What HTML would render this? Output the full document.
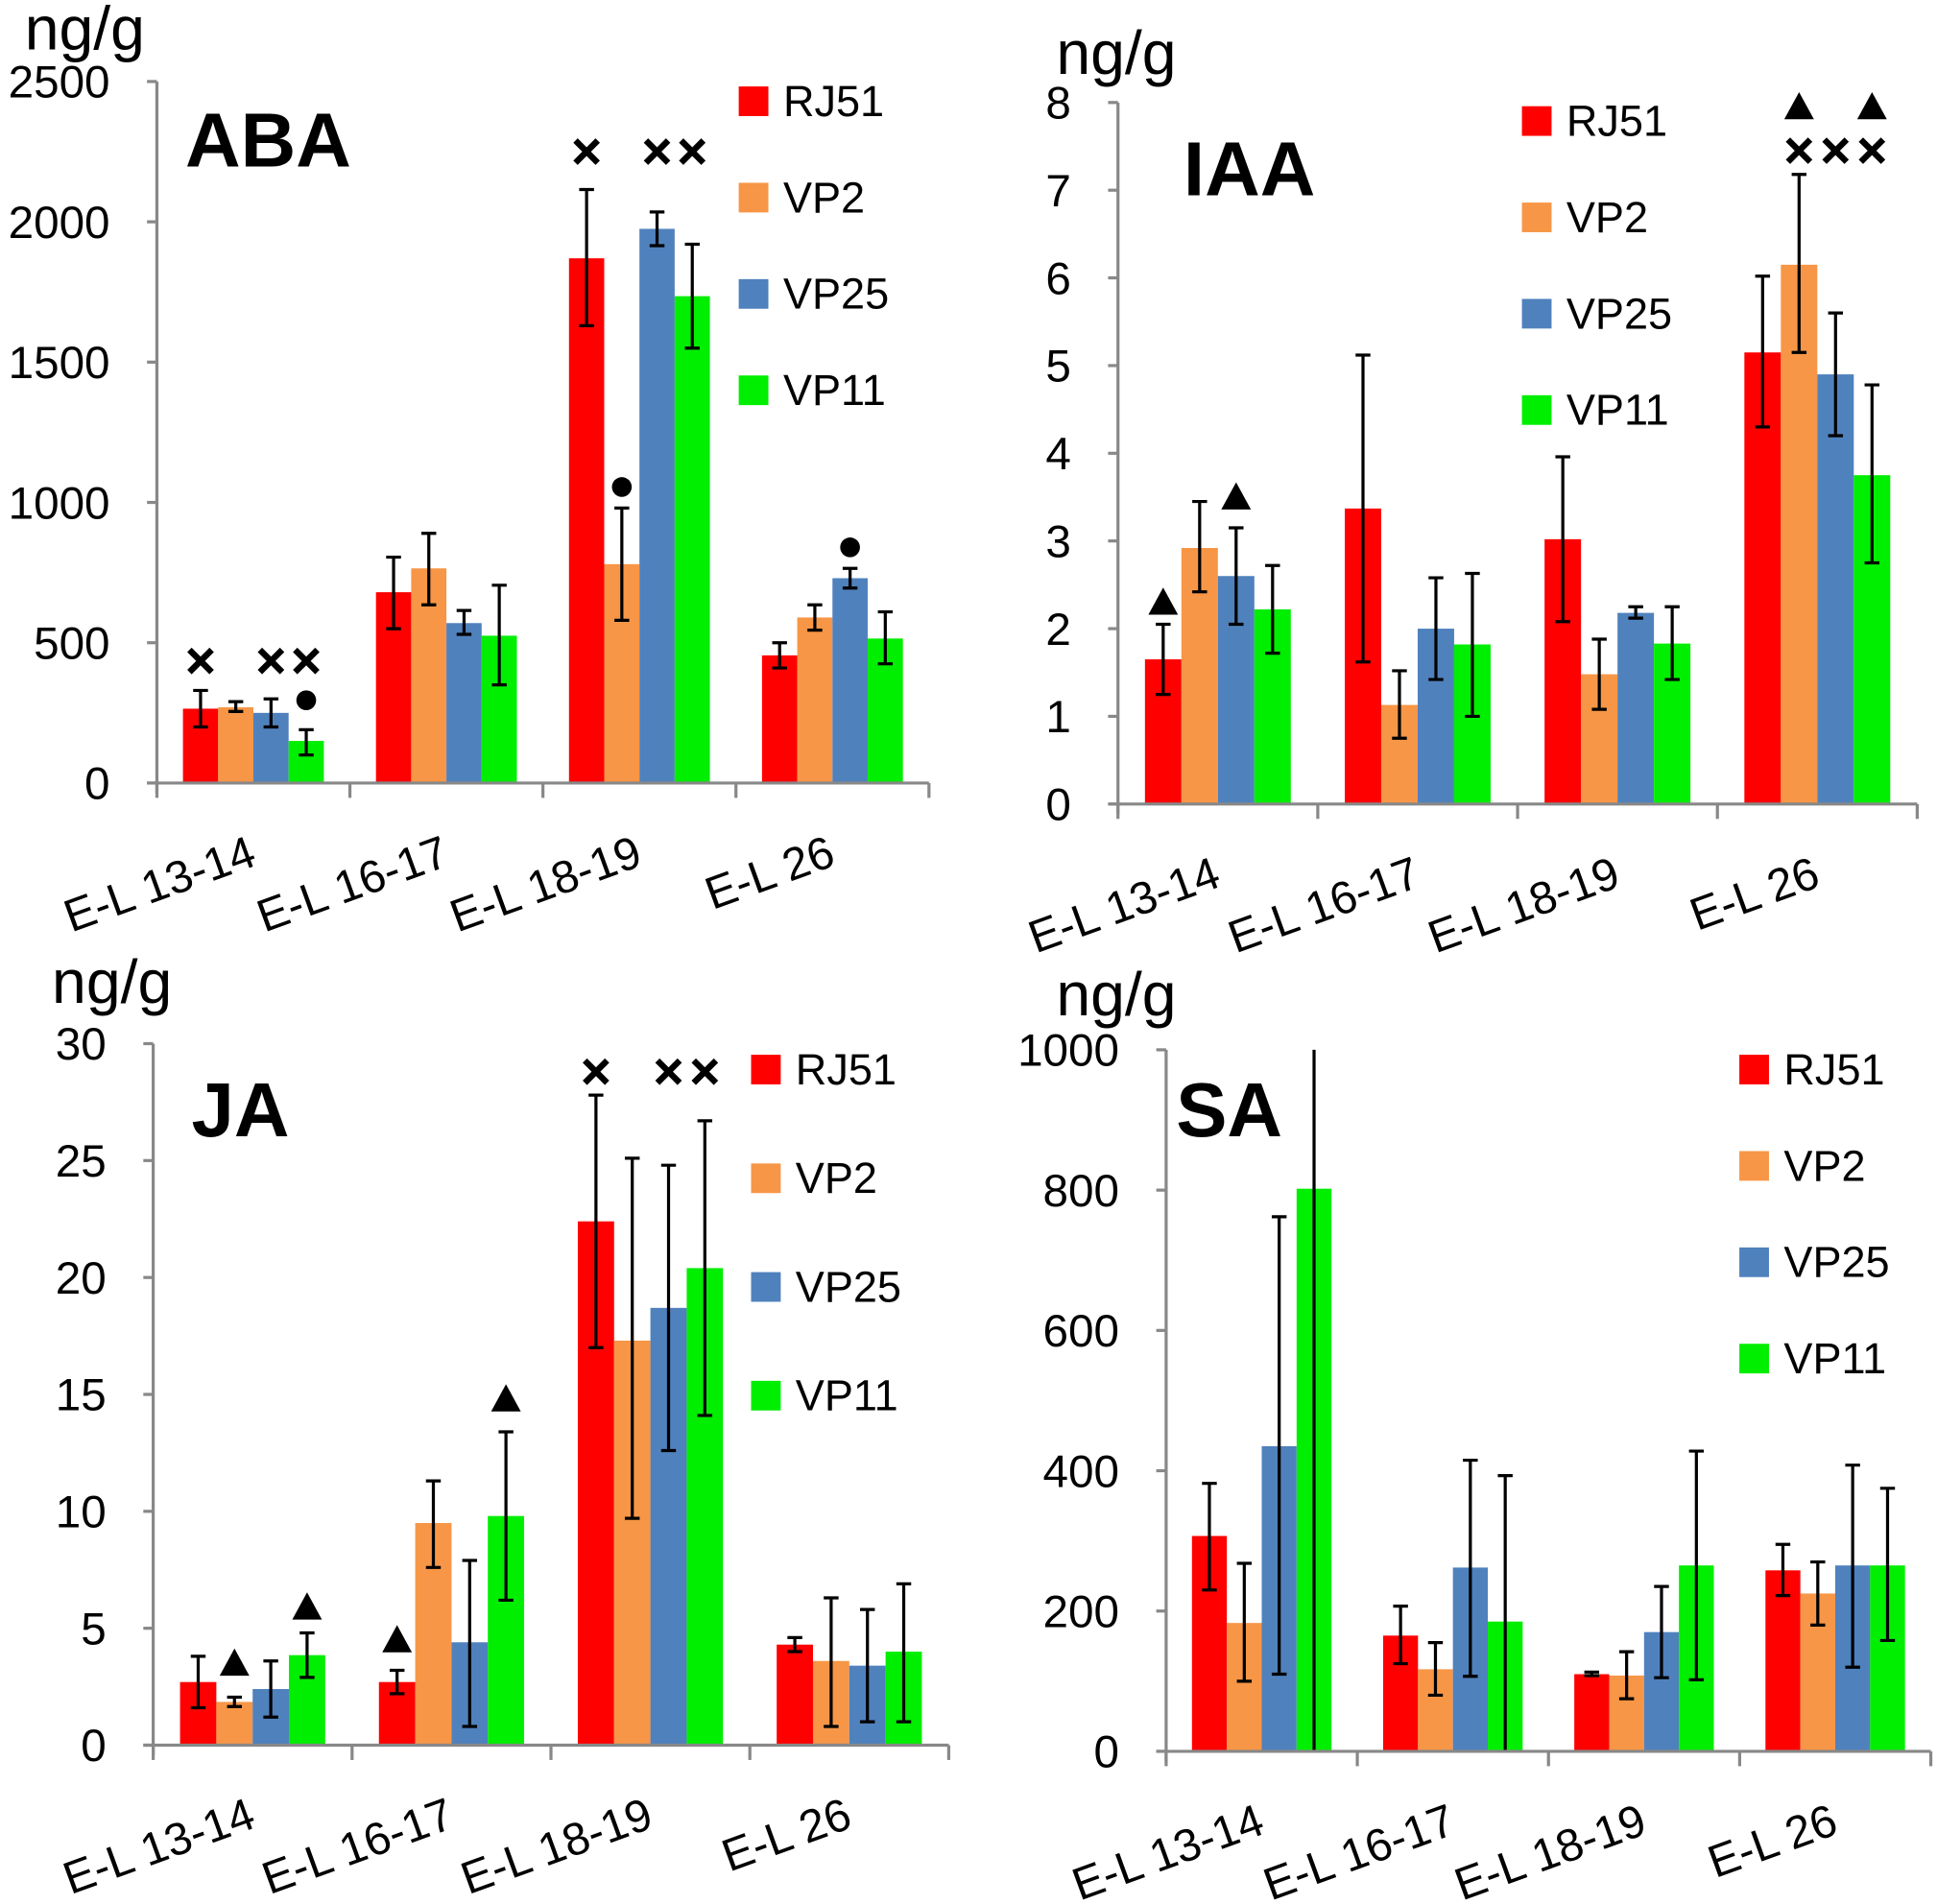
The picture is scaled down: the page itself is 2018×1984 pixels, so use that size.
<!DOCTYPE html>
<html><head><meta charset="utf-8"><style>
html,body{margin:0;padding:0;background:#fff;}
svg{display:block;font-family:"Liberation Sans","DejaVu Sans",sans-serif;}
</style></head><body>
<svg id="root" width="2018" height="1984" viewBox="0 0 1568 1541.6" xmlns="http://www.w3.org/2000/svg"></svg>
<script>
const categories = ["E-L 13-14","E-L 16-17","E-L 18-19","E-L 26"];
const seriesNames = ["RJ51","VP2","VP25","VP11"];
const colors = ["#ff0000","#f79646","#4f81bd","#00ee00"];

const abaValues = [[265,680,1870,455],[270,765,780,590],[250,570,1975,730],[150,525,1735,515]];
const abaLow = [[200,550,1630,410],[255,635,580,545],[200,530,1915,695],[100,350,1550,425]];
const abaHigh = [[330,805,2115,500],[290,890,980,635],[300,615,2035,765],[190,705,1920,610]];
const abaTicks = [0,500,1000,1500,2000,2500];
const abaMarks = [["x",0,0,435],["x",0,2,435],["x",0,3,435],["dot",0,3,295],["x",2,0,2250],["x",2,2,2250],["x",2,3,2250],["dot",2,1,1055],["dot",3,2,840]];

const iaaValues = [[1.65,3.37,3.02,5.15],[2.92,1.13,1.48,6.15],[2.6,2.0,2.18,4.9],[2.22,1.82,1.83,3.75]];
const iaaLow = [[1.25,1.62,2.08,4.3],[2.42,0.75,1.08,5.15],[2.05,1.42,2.12,4.2],[1.72,1.0,1.42,2.75]];
const iaaHigh = [[2.05,5.12,3.96,6.02],[3.45,1.52,1.88,7.18],[3.15,2.58,2.25,5.6],[2.72,2.63,2.25,4.78]];
const iaaTicks = [0,1,2,3,4,5,6,7,8];
const iaaMarks = [["tri",0,0,2.3],["tri",0,2,3.5],["x",3,1,7.45],["x",3,2,7.45],["x",3,3,7.45],["tri",3,1,7.95],["tri",3,3,7.95]];

const jaValues = [[2.7,2.7,22.4,4.3],[1.85,9.5,17.3,3.6],[2.4,4.4,18.7,3.4],[3.85,9.8,20.4,4.0]];
const jaLow = [[1.6,2.2,17.0,4.0],[1.65,7.6,9.7,0.8],[1.2,0.8,12.6,1.0],[2.9,6.2,14.1,1.0]];
const jaHigh = [[3.8,3.2,27.8,4.6],[2.05,11.3,25.1,6.3],[3.6,7.9,24.8,5.8],[4.8,13.4,26.7,6.9]];
const jaTicks = [0,5,10,15,20,25,30];
const jaMarks = [["tri",0,1,3.5],["tri",0,3,5.9],["tri",1,0,4.5],["tri",1,3,14.8],["x",2,0,28.8],["x",2,2,28.8],["x",2,3,28.8]];

const saValues = [[307,165,110,258],[183,117,108,225],[435,262,170,265],[802,185,265,265]];
const saLow = [[230,125,108,222],[100,80,75,180],[110,107,105,120],[0,0,102,158]];
const saHigh = [[382,207,113,295],[268,155,142,270],[762,415,235,408],[1000,393,428,375]];
const saTicks = [0,200,400,600,800,1000];
const saMarks = [];

const NS="http://www.w3.org/2000/svg";
const root=document.getElementById('root');
function mk(tag,attrs,parent){const e=document.createElementNS(NS,tag);for(const k in attrs)e.setAttribute(k,attrs[k]);(parent||root).appendChild(e);return e;}

function chart(cfg){
  const g=mk('g',{});
  
  
  const yScale=v=>cfg.y0-(v-cfg.ticks[0])/(cfg.ticks[cfg.ticks.length-1]-cfg.ticks[0])*(cfg.y0-cfg.yTop);
  const catW=(cfg.x1-cfg.x0)/categories.length;
  const barW=catW*0.73/4;
  const xBar=(c,s)=>cfg.x0+c*catW+(catW-4*barW)/2+s*barW;
  for(let s=0;s<4;s++)for(let c=0;c<4;c++){
    const v=cfg.vals[s][c];
    const r=mk('rect',{x:xBar(c,s),y:yScale(v),width:barW,height:cfg.y0-yScale(v),fill:colors[s]},g);
    
    
  }
  for(let s=0;s<4;s++)for(let c=0;c<4;c++){
    const cx=xBar(c,s)+barW/2;
    const lo=yScale(cfg.lo[s][c]),hi=Math.max(yScale(cfg.hi[s][c]),cfg.yTop);
    const eb=mk('path',{d:`M${cx},${lo}V${hi}`+(cfg.hi[s][c]<cfg.ticks[cfg.ticks.length-1]?`M${cx-6},${hi}H${cx+6}`:'')+(cfg.lo[s][c]>0?`M${cx-6},${lo}H${cx+6}`:''),stroke:'#000','stroke-width':2.5,fill:'none'},g);
    
    
  }
  const ax=mk('path',{d:`M${cfg.x0},${cfg.yTop}V${cfg.y0+8}M${cfg.x0-8},${cfg.y0}H${cfg.x1}`,stroke:'#888','stroke-width':2.5,fill:'none'},g);
  
  
  cfg.ticks.forEach(t=>{
    const y=yScale(t);
    mk('path',{d:`M${cfg.x0-8},${y}H${cfg.x0}`,stroke:'#888','stroke-width':2.5},g);
    const tx=mk('text',{x:cfg.x0-38,y:y+13,'text-anchor':'end','font-size':37},g);
    tx.textContent=t;
    
    
  });
  for(let c=0;c<=4;c++){const x=cfg.x0+c*catW;mk('path',{d:`M${x},${cfg.y0}V${cfg.y0+12}`,stroke:'#888','stroke-width':2.5},g);}
  categories.forEach((cat,c)=>{
    const x=cfg.x0+(c+0.5)*catW+4,y=cfg.y0+66;
    const tx=mk('text',{x:x,y:y,'text-anchor':'end','font-size':37,transform:`rotate(-20 ${x} ${y})`},g);
    tx.textContent=cat;
    
    
  });
  const u=mk('text',{x:cfg.unitX,y:cfg.unitY,'font-size':50},g);u.textContent='ng/g';
  
  
  const t=mk('text',{x:cfg.titleX,y:cfg.titleY,'font-size':62,'font-weight':'bold'},g);t.textContent=cfg.name;
  
  
  seriesNames.forEach((n,s)=>{
    const y=cfg.legY+s*cfg.legDy;
    const sq=mk('rect',{x:cfg.legX,y:y-12,width:24,height:24,fill:colors[s]},g);
    
    
    const lt=mk('text',{x:cfg.legX+36,y:y+12,'font-size':35},g);lt.textContent=n;
    
    
  });
  cfg.marks.forEach(m=>{
    const cx=xBar(m[1],m[2])+barW/2, cy=yScale(m[3]);
    let e;
    if(m[0]==='x') e=mk('path',{d:`M${cx-9},${cy-9}L${cx+9},${cy+9}M${cx+9},${cy-9}L${cx-9},${cy+9}`,stroke:'#000','stroke-width':5},g);
    else if(m[0]==='dot') e=mk('circle',{cx:cx,cy:cy,r:8,fill:'#000'},g);
    else e=mk('path',{d:`M${cx},${cy-12}L${cx+12},${cy+10}L${cx-12},${cy+10}Z`,fill:'#000'},g);
    
    
  });
}
chart({name:'ABA',vals:abaValues,lo:abaLow,hi:abaHigh,ticks:abaTicks,marks:abaMarks,x0:127,x1:752,y0:634,yTop:66,unitX:20,unitY:40,titleX:150,titleY:135,legX:598,legY:82,legDy:78});
chart({name:'IAA',vals:iaaValues,lo:iaaLow,hi:iaaHigh,ticks:iaaTicks,marks:iaaMarks,x0:905,x1:1552,y0:651,yTop:83,unitX:855,unitY:60,titleX:958,titleY:158,legX:1232,legY:98,legDy:78});
chart({name:'JA',vals:jaValues,lo:jaLow,hi:jaHigh,ticks:jaTicks,marks:jaMarks,x0:124,x1:768,y0:1413,yTop:845,unitX:42,unitY:812,titleX:155,titleY:920,legX:608,legY:866,legDy:88});
chart({name:'SA',vals:saValues,lo:saLow,hi:saHigh,ticks:saTicks,marks:saMarks,x0:944,x1:1563,y0:1418,yTop:850,unitX:855,unitY:822,titleX:952,titleY:920,legX:1408,legY:866,legDy:78});
</script>
</body></html>
